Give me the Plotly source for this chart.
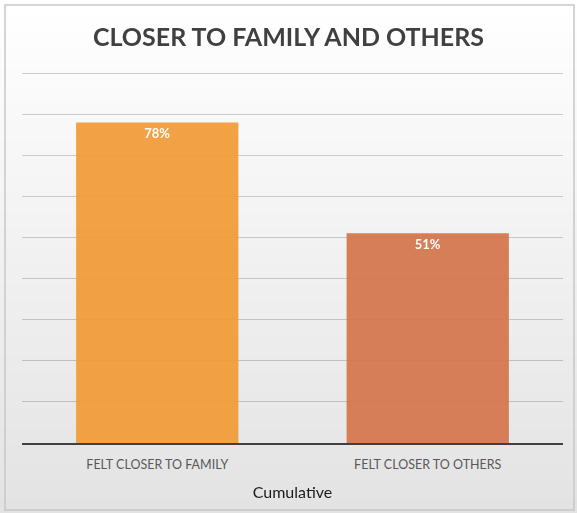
import plotly.graph_objects as go

# Survey result: share of respondents (%)
categories = ["FELT CLOSER TO FAMILY", "FELT CLOSER TO OTHERS"]
values = [78, 51]
labels = ["78%", "51%"]
bar_colors = ["#F29A36", "#D4764D"]

W, H = 577, 513

fig = go.Figure(
    go.Bar(
        x=categories,
        y=values,
        text=labels,
        textposition="inside",
        insidetextanchor="end",
        textfont=dict(family="Lato", size=13, color="white", weight="bold"),
        marker=dict(color=bar_colors, line=dict(width=0)),
        opacity=0.93,
        hoverinfo="skip",
    )
)

# soft vertical gradient behind the whole chart
shapes = []
n = 60
top, bottom = (255, 255, 255), (226, 226, 226)
for i in range(n):
    t = i / (n - 1)
    c = tuple(round(top[k] + (bottom[k] - top[k]) * t) for k in range(3))
    shapes.append(dict(
        type="rect", xref="paper", yref="paper",
        x0=-0.05, x1=1.05,
        y0=1.2 - (i + 1) * 1.45 / n, y1=1.2 - i * 1.45 / n + 0.002,
        fillcolor=f"rgb{c}", line=dict(width=0), layer="below",
    ))

plot_h = 372
fig.update_layout(
    width=W, height=H,
    margin=dict(l=22, r=14, t=H - 70 - plot_h, b=70),
    paper_bgcolor="rgba(0,0,0,0)",
    plot_bgcolor="rgba(0,0,0,0)",
    bargap=0.4,
    showlegend=False,
    shapes=shapes,
    title=dict(
        text="CLOSER TO FAMILY AND OTHERS",
        x=0.5, xanchor="center", y=1 - 37 / H, yanchor="middle",
        font=dict(family="Lato", size=25, color="#404040", weight="bold"),
    ),
    xaxis=dict(
        showgrid=False,
        showline=True, linecolor="#404040", linewidth=2,
        ticks="", ticklabelstandoff=9,
        tickfont=dict(family="Lato", size=12.5, color="#595959"),
        title=dict(text="Cumulative", font=dict(family="Lato", size=16, color="#1a1a1a"), standoff=16),
    ),
    yaxis=dict(
        range=[0, 90.5], dtick=10,
        showgrid=True, gridcolor="rgba(0,0,0,0.18)", gridwidth=1,
        showticklabels=False, zeroline=False, ticks="",
    ),
)

# thin frame around the chart
fig.add_shape(
    type="rect", xref="paper", yref="paper",
    x0=-17 / 541, x1=1 + 11 / 541, y0=-67 / plot_h, y1=1 + 66 / plot_h,
    line=dict(color="#c8c8c8", width=1.5), fillcolor="rgba(0,0,0,0)", layer="above",
)

fig.write_html("out.html")
